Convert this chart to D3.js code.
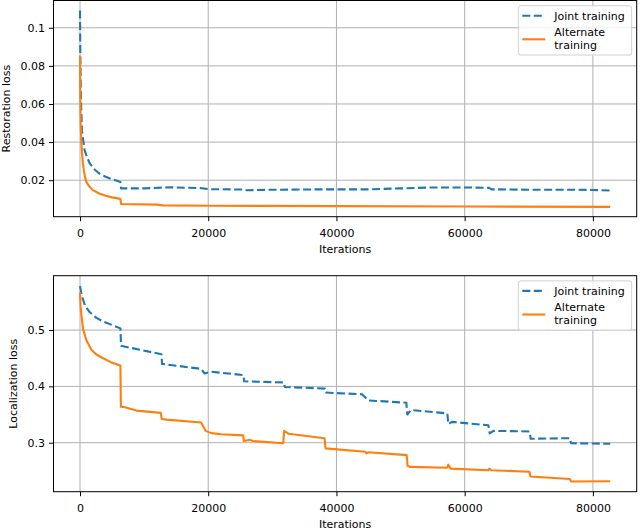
<!DOCTYPE html>
<html>
<head>
<meta charset="utf-8">
<script src="https://cdn.jsdelivr.net/npm/d3@7"></script>
<style>
  body { margin: 0; background: #fff; }
  svg { display: block; font-family: "DejaVu Sans", sans-serif; }
</style>
</head>
<body>
<div id="graph"></div>
<script>
/*******************************************************************************
* Data
*******************************************************************************/
var seriesNames = ["Joint training", "Alternate training"];

// top panel: restoration loss
var restJointIter = [0, 50, 150, 300, 700, 1100, 1500, 2000, 3000, 4000, 5000, 6300, 6400, 10000, 14000, 19000, 20000,
  25500, 26000, 30000, 38000, 45000, 50000, 55000, 60000, 63800, 64200, 70000, 76000, 80000, 82700];
var restJointLoss = [0.109, 0.085, 0.062, 0.046, 0.036, 0.032, 0.029, 0.0265, 0.0235, 0.0218, 0.0205, 0.0191, 0.0157, 0.0157, 0.0163, 0.0158, 0.0153,
  0.0151, 0.0147, 0.015, 0.0152, 0.0152, 0.0157, 0.0162, 0.0162, 0.016, 0.0152, 0.015, 0.015, 0.0149, 0.0146];

var restAltIter = [0, 40, 100, 200, 300, 450, 600, 800, 1000, 1500, 2000, 3000, 4000, 5000, 6300, 6400, 12000, 13000, 20000, 40000, 60000, 82700];
var restAltLoss = [0.0855, 0.065, 0.05, 0.04, 0.035, 0.029, 0.025, 0.0215, 0.019, 0.0165, 0.0148, 0.013, 0.0118, 0.011, 0.0102, 0.0075, 0.0072, 0.0068, 0.0066, 0.0064, 0.0062, 0.006];

// bottom panel: localization loss
var locJointIter = [0, 300, 800, 1500, 2500, 3600, 5000, 6300, 6400, 12700, 12800, 18900, 19400, 20500, 25500, 25600, 31800, 31950,
  38200, 38350, 44000, 45000, 50900, 51050, 51600, 57300, 57450, 58000, 63700, 63900, 64500, 70100, 70300,
  76400, 76600, 82700];
var locJointLoss = [0.578, 0.560, 0.543, 0.532, 0.522, 0.515, 0.509, 0.503, 0.472, 0.457, 0.440, 0.431, 0.423, 0.426, 0.420, 0.409, 0.407, 0.399,
  0.396, 0.389, 0.386, 0.375, 0.371, 0.350, 0.358, 0.352, 0.333, 0.337, 0.331, 0.3165, 0.321, 0.320, 0.307,
  0.308, 0.299, 0.298];

var locAltIter = [0, 100, 220, 470, 1000, 1770, 2500, 3600, 4800, 6300, 6380, 7000, 8800, 12600, 12750, 13500, 18900, 19600,
  20500, 22000, 25450, 25550, 26500, 27000, 31700, 31850, 32500, 38150, 38300, 44500, 44700, 45000, 50950,
  51100, 51500, 57300, 57450, 57800, 63700, 63850, 64200, 70100, 70250, 76400, 76600, 82700];
var locAltLoss = [0.567, 0.54, 0.527, 0.502, 0.482, 0.465, 0.457, 0.450, 0.443, 0.437, 0.364, 0.363, 0.357, 0.353, 0.342, 0.341, 0.336, 0.321,
  0.317, 0.315, 0.313, 0.303, 0.305, 0.303, 0.299, 0.321, 0.316, 0.308, 0.290, 0.284, 0.281, 0.283, 0.278,
  0.259, 0.257, 0.2555, 0.261, 0.254, 0.251, 0.254, 0.251, 0.2485, 0.240, 0.2355, 0.231, 0.2315];

var xTicks = [0, 20000, 40000, 60000, 80000];
var restTicks = [0.02, 0.04, 0.06, 0.08, 0.1];
var locTicks = [0.3, 0.4, 0.5];

/*******************************************************************************
* Svg Container
*******************************************************************************/
var colors = ["#1f77b4", "#ff7f0e"];
var left = 53.5, right = 636.7;

var container = d3.select("#graph").append("svg")
  .attr("width", 640)
  .attr("height", 530);

var x = d3.scaleLinear().domain([-4135, 86835]).range([left, right]);

function zip(xs, ys) {
  return xs.map(function (v, i) { return [v, ys[i]]; });
}

/*******************************************************************************
* @method drawPanel
* @param {Object} panel settings: pixel top/bottom, y domain, ticks, series
*******************************************************************************/
function drawPanel(p) {
  var y = d3.scaleLinear().domain(p.domain).range([p.bottom, p.top]);
  var g = container.append("g");

  // grid
  g.append("g").selectAll("line").data(xTicks).enter().append("line")
    .attr("x1", function (d) { return x(d); }).attr("x2", function (d) { return x(d); })
    .attr("y1", p.top).attr("y2", p.bottom)
    .attr("stroke", "#b0b0b0").attr("stroke-width", 1);
  g.append("g").selectAll("line").data(p.ticks).enter().append("line")
    .attr("y1", function (d) { return y(d); }).attr("y2", function (d) { return y(d); })
    .attr("x1", left).attr("x2", right)
    .attr("stroke", "#b0b0b0").attr("stroke-width", 1);

  // lines
  var line = d3.line()
    .x(function (d) { return x(d[0]); })
    .y(function (d) { return y(d[1]); });

  p.series.forEach(function (s, i) {
    g.append("path")
      .datum(s)
      .attr("fill", "none")
      .attr("stroke", colors[i])
      .attr("stroke-width", 2.1)
      .attr("stroke-linejoin", "round")
      .attr("stroke-dasharray", i === 0 ? "8,3.5" : null)
      .attr("d", line);
  });

  // axes
  var xAxis = g.append("g")
    .attr("transform", "translate(0," + p.bottom + ")")
    .call(d3.axisBottom(x).tickValues(xTicks).tickSize(4.5).tickPadding(8.5).tickFormat(d3.format("d")));
  var yAxis = g.append("g")
    .attr("transform", "translate(" + left + ",0)")
    .call(d3.axisLeft(y).tickValues(p.ticks).tickSize(4.5).tickPadding(4).tickFormat(function (d) { return String(+d.toFixed(3)); }));
  [xAxis, yAxis].forEach(function (a) {
    a.select(".domain").remove();
    a.selectAll("text").attr("font-size", 11).attr("font-family", "DejaVu Sans").attr("fill", "#000");
    a.selectAll("line").attr("stroke", "#000").attr("stroke-width", 1);
  });

  // frame
  g.append("rect")
    .attr("x", left).attr("y", p.top)
    .attr("width", right - left).attr("height", p.bottom - p.top)
    .attr("fill", "none").attr("stroke", "#000").attr("stroke-width", 1);

  // axis labels
  g.append("text")
    .attr("x", (left + right) / 2).attr("y", p.bottom + 36.4)
    .attr("text-anchor", "middle").attr("font-size", 11)
    .text("Iterations");
  g.append("text")
    .attr("transform", "translate(" + p.ylabelX + "," + (p.top + p.bottom) / 2 + ") rotate(-90)")
    .attr("text-anchor", "middle").attr("font-size", 11)
    .text(p.ylabel);

  // legend
  var lg = g.append("g").attr("transform", "translate(518.3," + (p.top + 5.2) + ")");
  lg.append("rect")
    .attr("width", 113.4).attr("height", 49.3).attr("rx", 2.5)
    .attr("fill", "#fff").attr("fill-opacity", 0.8)
    .attr("stroke", "#d0d0d0").attr("stroke-width", 1);
  lg.append("line")
    .attr("x1", 4).attr("x2", 27).attr("y1", 10).attr("y2", 10)
    .attr("stroke", colors[0]).attr("stroke-width", 2.1).attr("stroke-dasharray", "8,3.5");
  lg.append("line")
    .attr("x1", 4).attr("x2", 27).attr("y1", 33.6).attr("y2", 33.6)
    .attr("stroke", colors[1]).attr("stroke-width", 2.1);
  lg.append("text").attr("x", 36).attr("y", 14).attr("font-size", 11).text(seriesNames[0]);
  var t = lg.append("text").attr("font-size", 11);
  t.append("tspan").attr("x", 36).attr("y", 30.6).text("Alternate");
  t.append("tspan").attr("x", 36).attr("y", 43).text("training");
}

drawPanel({
  top: 0.5, bottom: 216.7,
  domain: [0.00085, 0.1143],
  ticks: restTicks,
  ylabel: "Restoration loss", ylabelX: 10,
  series: [zip(restJointIter, restJointLoss), zip(restAltIter, restAltLoss)]
});

drawPanel({
  top: 275.7, bottom: 491.7,
  domain: [0.213, 0.5965],
  ticks: locTicks,
  ylabel: "Localization loss", ylabelX: 17,
  series: [zip(locJointIter, locJointLoss), zip(locAltIter, locAltLoss)]
});
</script>
</body>
</html>
